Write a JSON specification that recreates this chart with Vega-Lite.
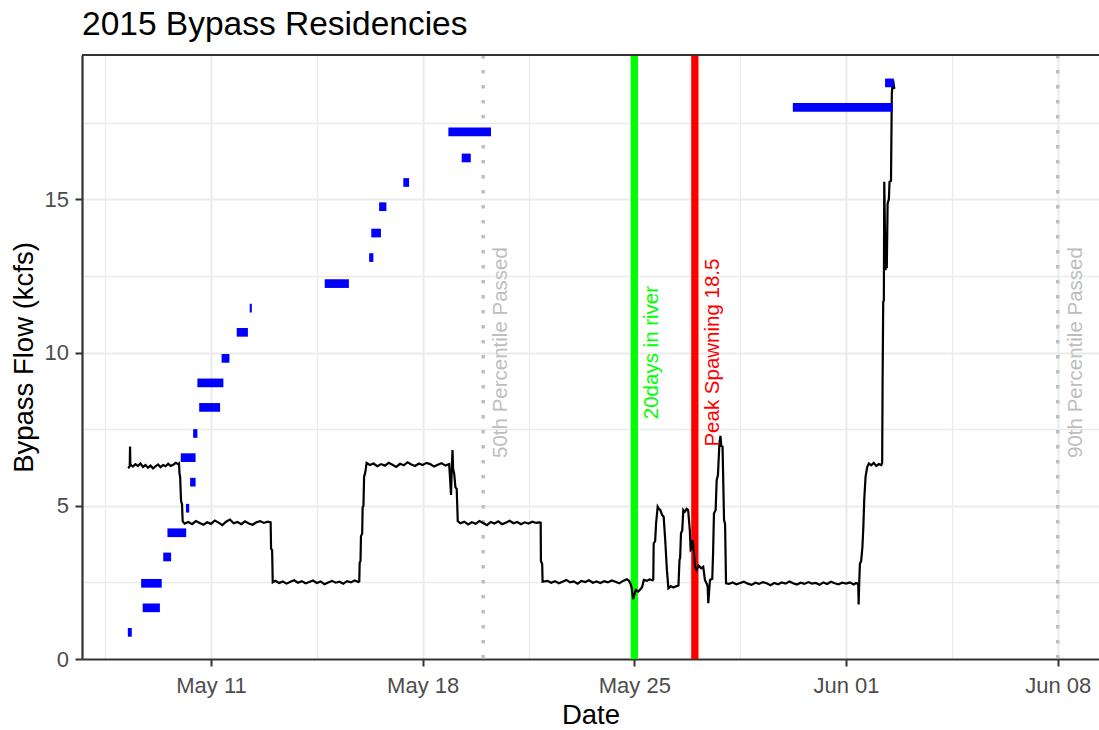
{
  "$schema": "https://vega.github.io/schema/vega-lite/v6.json",
  "width": 1017,
  "height": 604,
  "autosize": {"type": "none"},
  "padding": {"left": 82, "top": 55, "right": 0, "bottom": 71},
  "background": "white",
  "title": {"text": "2015 Bypass Residencies", "anchor": "start", "frame": "group", "font": "Liberation Sans", "fontSize": 33.5, "fontWeight": "normal", "color": "#000000", "baseline": "alphabetic", "offset": 20, "dy": 37},
  "config": {
    "view": {"stroke": null},
    "font": "Liberation Sans",
    "axis": {
      "labelFont": "Liberation Sans", "labelFontSize": 22, "labelColor": "#4D4D4D",
      "titleFont": "Liberation Sans", "titleFontSize": 27.5, "titleColor": "#000000", "titleFontWeight": "normal",
      "gridColor": "#EBEBEB", "tickColor": "#333333", "tickWidth": 2, "tickSize": 7,
      "domainColor": "#333333", "domainWidth": 2.2
    },
    "axisX": {"labelPadding": 9, "titlePadding": 5},
    "axisY": {"labelPadding": 6.5, "titlePadding": 6}
  },
  "datasets": {
    "events": [
      {"date": "2015-05-20T00:00:00Z", "label": "50th Percentile Passed", "kind": "percentile"},
      {"date": "2015-05-25T00:00:00Z", "label": "20days in river", "kind": "milestone"},
      {"date": "2015-05-27T00:00:00Z", "label": "Peak Spawning 18.5", "kind": "milestone"},
      {"date": "2015-06-08T00:00:00Z", "label": "90th Percentile Passed", "kind": "percentile"}
    ],
    "residency": [
      {"arrive":"2015-05-08T06:00Z","depart":"2015-05-08T09:07Z","level":0.87},
      {"arrive":"2015-05-08T17:46Z","depart":"2015-05-09T07:26Z","level":1.67},
      {"arrive":"2015-05-08T16:34Z","depart":"2015-05-09T08:53Z","level":2.47},
      {"arrive":"2015-05-09T10:05Z","depart":"2015-05-09T16:19Z","level":3.33},
      {"arrive":"2015-05-09T13:26Z","depart":"2015-05-10T04:19Z","level":4.12},
      {"arrive":"2015-05-10T04:05Z","depart":"2015-05-10T06:43Z","level":4.92},
      {"arrive":"2015-05-10T07:26Z","depart":"2015-05-10T11:46Z","level":5.77},
      {"arrive":"2015-05-10T00:00Z","depart":"2015-05-10T11:46Z","level":6.57},
      {"arrive":"2015-05-10T09:50Z","depart":"2015-05-10T13:12Z","level":7.36},
      {"arrive":"2015-05-10T14:38Z","depart":"2015-05-11T07:12Z","level":8.21},
      {"arrive":"2015-05-10T13:12Z","depart":"2015-05-11T09:50Z","level":9.01},
      {"arrive":"2015-05-11T08:24Z","depart":"2015-05-11T14:38Z","level":9.81},
      {"arrive":"2015-05-11T20:24Z","depart":"2015-05-12T05:17Z","level":10.66},
      {"arrive":"2015-05-12T06:43Z","depart":"2015-05-12T08:24Z","level":11.45},
      {"arrive":"2015-05-14T18:14Z","depart":"2015-05-15T13:26Z","level":12.25},
      {"arrive":"2015-05-16T05:31Z","depart":"2015-05-16T08:53Z","level":13.1},
      {"arrive":"2015-05-16T07:12Z","depart":"2015-05-16T14:53Z","level":13.9},
      {"arrive":"2015-05-16T13:26Z","depart":"2015-05-16T19:12Z","level":14.76},
      {"arrive":"2015-05-17T08:38Z","depart":"2015-05-17T13:12Z","level":15.55},
      {"arrive":"2015-05-19T06:58Z","depart":"2015-05-19T14:10Z","level":16.35},
      {"arrive":"2015-05-18T20:24Z","depart":"2015-05-20T06:14Z","level":17.2},
      {"arrive":"2015-05-30T05:46Z","depart":"2015-06-02T12:58Z","level":18.0},
      {"arrive":"2015-06-02T06:58Z","depart":"2015-06-02T13:55Z","level":18.8}
    ],
    "flow": [
      {"t":"2015-05-08T06:20Z","f":6.22},{"t":"2015-05-08T07:30Z","f":6.30},{"t":"2015-05-08T07:45Z","f":6.93},{"t":"2015-05-08T08:00Z","f":6.35},
      {"t":"2015-05-08T10:00Z","f":6.28},{"t":"2015-05-08T12:00Z","f":6.36},{"t":"2015-05-08T14:00Z","f":6.30},{"t":"2015-05-08T16:00Z","f":6.38},
      {"t":"2015-05-08T18:00Z","f":6.27},{"t":"2015-05-08T20:00Z","f":6.33},{"t":"2015-05-08T22:00Z","f":6.24},{"t":"2015-05-09T00:00Z","f":6.31},
      {"t":"2015-05-09T02:00Z","f":6.22},{"t":"2015-05-09T04:00Z","f":6.29},{"t":"2015-05-09T06:00Z","f":6.35},{"t":"2015-05-09T08:00Z","f":6.26},
      {"t":"2015-05-09T10:00Z","f":6.33},{"t":"2015-05-09T12:00Z","f":6.29},{"t":"2015-05-09T14:00Z","f":6.37},{"t":"2015-05-09T16:00Z","f":6.30},
      {"t":"2015-05-09T18:00Z","f":6.34},{"t":"2015-05-09T20:00Z","f":6.40},{"t":"2015-05-09T22:00Z","f":6.36},{"t":"2015-05-09T22:36Z","f":6.38},
      {"t":"2015-05-09T23:00Z","f":6.05},{"t":"2015-05-09T23:30Z","f":5.95},{"t":"2015-05-10T00:00Z","f":5.40},{"t":"2015-05-10T00:15Z","f":5.15},
      {"t":"2015-05-10T01:00Z","f":5.05},{"t":"2015-05-10T01:30Z","f":4.50},
      {"t":"2015-05-10T03:00Z","f":4.42},{"t":"2015-05-10T06:00Z","f":4.47},{"t":"2015-05-10T09:00Z","f":4.40},{"t":"2015-05-10T12:00Z","f":4.50},
      {"t":"2015-05-10T15:00Z","f":4.44},{"t":"2015-05-10T18:00Z","f":4.38},{"t":"2015-05-10T21:00Z","f":4.46},{"t":"2015-05-11T00:00Z","f":4.41},
      {"t":"2015-05-11T03:00Z","f":4.52},{"t":"2015-05-11T06:00Z","f":4.45},{"t":"2015-05-11T09:00Z","f":4.37},{"t":"2015-05-11T12:00Z","f":4.48},
      {"t":"2015-05-11T15:00Z","f":4.55},{"t":"2015-05-11T18:00Z","f":4.43},{"t":"2015-05-11T21:00Z","f":4.47},{"t":"2015-05-12T00:00Z","f":4.40},
      {"t":"2015-05-12T03:00Z","f":4.49},{"t":"2015-05-12T06:00Z","f":4.42},{"t":"2015-05-12T09:00Z","f":4.38},{"t":"2015-05-12T12:00Z","f":4.46},
      {"t":"2015-05-12T15:00Z","f":4.50},{"t":"2015-05-12T18:00Z","f":4.44},{"t":"2015-05-12T21:00Z","f":4.48},{"t":"2015-05-12T23:20Z","f":4.46},
      {"t":"2015-05-12T23:40Z","f":3.60},{"t":"2015-05-13T00:30Z","f":3.55},{"t":"2015-05-13T01:00Z","f":2.50},
      {"t":"2015-05-13T03:00Z","f":2.55},{"t":"2015-05-13T06:00Z","f":2.48},{"t":"2015-05-13T09:00Z","f":2.53},{"t":"2015-05-13T12:00Z","f":2.46},
      {"t":"2015-05-13T15:00Z","f":2.52},{"t":"2015-05-13T18:00Z","f":2.57},{"t":"2015-05-13T21:00Z","f":2.49},{"t":"2015-05-14T00:00Z","f":2.54},
      {"t":"2015-05-14T03:00Z","f":2.47},{"t":"2015-05-14T06:00Z","f":2.51},{"t":"2015-05-14T09:00Z","f":2.56},{"t":"2015-05-14T12:00Z","f":2.48},
      {"t":"2015-05-14T15:00Z","f":2.53},{"t":"2015-05-14T18:00Z","f":2.44},{"t":"2015-05-14T21:00Z","f":2.50},{"t":"2015-05-15T00:00Z","f":2.55},
      {"t":"2015-05-15T03:00Z","f":2.49},{"t":"2015-05-15T06:00Z","f":2.52},{"t":"2015-05-15T09:00Z","f":2.46},{"t":"2015-05-15T12:00Z","f":2.54},
      {"t":"2015-05-15T15:00Z","f":2.50},{"t":"2015-05-15T18:00Z","f":2.56},{"t":"2015-05-15T21:00Z","f":2.51},{"t":"2015-05-15T21:40Z","f":2.53},
      {"t":"2015-05-15T22:00Z","f":3.15},{"t":"2015-05-15T22:40Z","f":3.20},{"t":"2015-05-15T23:00Z","f":4.00},{"t":"2015-05-16T00:00Z","f":4.10},
      {"t":"2015-05-16T00:20Z","f":4.95},{"t":"2015-05-16T01:00Z","f":5.00},{"t":"2015-05-16T01:30Z","f":5.95},{"t":"2015-05-16T02:30Z","f":6.10},
      {"t":"2015-05-16T03:30Z","f":6.40},
      {"t":"2015-05-16T06:00Z","f":6.33},{"t":"2015-05-16T09:00Z","f":6.38},{"t":"2015-05-16T12:00Z","f":6.29},{"t":"2015-05-16T15:00Z","f":6.36},
      {"t":"2015-05-16T18:00Z","f":6.31},{"t":"2015-05-16T21:00Z","f":6.40},{"t":"2015-05-17T00:00Z","f":6.34},{"t":"2015-05-17T03:00Z","f":6.27},
      {"t":"2015-05-17T06:00Z","f":6.37},{"t":"2015-05-17T09:00Z","f":6.32},{"t":"2015-05-17T12:00Z","f":6.42},{"t":"2015-05-17T15:00Z","f":6.35},
      {"t":"2015-05-17T18:00Z","f":6.30},{"t":"2015-05-17T21:00Z","f":6.38},{"t":"2015-05-18T00:00Z","f":6.33},{"t":"2015-05-18T03:00Z","f":6.40},
      {"t":"2015-05-18T06:00Z","f":6.36},{"t":"2015-05-18T09:00Z","f":6.28},{"t":"2015-05-18T12:00Z","f":6.34},{"t":"2015-05-18T15:00Z","f":6.39},
      {"t":"2015-05-18T18:00Z","f":6.31},{"t":"2015-05-18T21:00Z","f":6.36},
      {"t":"2015-05-18T21:30Z","f":6.05},{"t":"2015-05-18T22:30Z","f":5.35},{"t":"2015-05-18T23:00Z","f":6.10},{"t":"2015-05-18T23:40Z","f":6.82},
      {"t":"2015-05-19T00:10Z","f":6.20},{"t":"2015-05-19T01:00Z","f":6.05},{"t":"2015-05-19T02:00Z","f":5.60},{"t":"2015-05-19T03:00Z","f":5.55},
      {"t":"2015-05-19T03:50Z","f":4.50},
      {"t":"2015-05-19T06:00Z","f":4.43},{"t":"2015-05-19T09:00Z","f":4.48},{"t":"2015-05-19T12:00Z","f":4.39},{"t":"2015-05-19T15:00Z","f":4.46},
      {"t":"2015-05-19T18:00Z","f":4.41},{"t":"2015-05-19T21:00Z","f":4.50},{"t":"2015-05-20T00:00Z","f":4.44},{"t":"2015-05-20T03:00Z","f":4.37},
      {"t":"2015-05-20T06:00Z","f":4.47},{"t":"2015-05-20T09:00Z","f":4.42},{"t":"2015-05-20T12:00Z","f":4.49},{"t":"2015-05-20T15:00Z","f":4.40},
      {"t":"2015-05-20T18:00Z","f":4.45},{"t":"2015-05-20T21:00Z","f":4.51},{"t":"2015-05-21T00:00Z","f":4.43},{"t":"2015-05-21T03:00Z","f":4.47},
      {"t":"2015-05-21T06:00Z","f":4.40},{"t":"2015-05-21T09:00Z","f":4.46},{"t":"2015-05-21T12:00Z","f":4.42},{"t":"2015-05-21T15:00Z","f":4.48},
      {"t":"2015-05-21T18:00Z","f":4.44},{"t":"2015-05-21T20:30Z","f":4.46},{"t":"2015-05-21T21:40Z","f":4.45},
      {"t":"2015-05-21T21:50Z","f":3.20},{"t":"2015-05-21T22:50Z","f":3.10},{"t":"2015-05-21T23:10Z","f":2.52},
      {"t":"2015-05-22T03:00Z","f":2.55},{"t":"2015-05-22T06:00Z","f":2.49},{"t":"2015-05-22T09:00Z","f":2.54},{"t":"2015-05-22T12:00Z","f":2.47},
      {"t":"2015-05-22T15:00Z","f":2.52},{"t":"2015-05-22T18:00Z","f":2.58},{"t":"2015-05-22T21:00Z","f":2.50},{"t":"2015-05-23T00:00Z","f":2.53},
      {"t":"2015-05-23T03:00Z","f":2.46},{"t":"2015-05-23T06:00Z","f":2.55},{"t":"2015-05-23T09:00Z","f":2.51},{"t":"2015-05-23T12:00Z","f":2.57},
      {"t":"2015-05-23T15:00Z","f":2.49},{"t":"2015-05-23T18:00Z","f":2.53},{"t":"2015-05-23T21:00Z","f":2.48},{"t":"2015-05-24T00:00Z","f":2.54},
      {"t":"2015-05-24T03:00Z","f":2.50},{"t":"2015-05-24T06:00Z","f":2.56},{"t":"2015-05-24T09:00Z","f":2.52},{"t":"2015-05-24T12:00Z","f":2.47},
      {"t":"2015-05-24T15:00Z","f":2.55},{"t":"2015-05-24T18:00Z","f":2.60},{"t":"2015-05-24T19:40Z","f":2.56},
      {"t":"2015-05-24T21:00Z","f":2.45},{"t":"2015-05-24T22:00Z","f":2.30},{"t":"2015-05-24T23:00Z","f":1.95},{"t":"2015-05-25T00:00Z","f":2.10},
      {"t":"2015-05-25T01:10Z","f":2.25},{"t":"2015-05-25T03:00Z","f":2.20},{"t":"2015-05-25T05:00Z","f":2.28},{"t":"2015-05-25T06:10Z","f":2.35},
      {"t":"2015-05-25T07:30Z","f":2.58},{"t":"2015-05-25T10:00Z","f":2.55},{"t":"2015-05-25T12:00Z","f":2.60},{"t":"2015-05-25T14:30Z","f":2.57},
      {"t":"2015-05-25T15:00Z","f":2.60},{"t":"2015-05-25T15:20Z","f":3.77},{"t":"2015-05-25T16:30Z","f":3.85},{"t":"2015-05-25T17:15Z","f":4.43},
      {"t":"2015-05-25T18:30Z","f":4.97},{"t":"2015-05-25T19:30Z","f":4.90},{"t":"2015-05-25T20:40Z","f":4.86},{"t":"2015-05-25T22:00Z","f":4.70},
      {"t":"2015-05-25T23:15Z","f":4.64},{"t":"2015-05-26T00:30Z","f":3.88},{"t":"2015-05-26T01:50Z","f":2.90},{"t":"2015-05-26T03:00Z","f":2.31},
      {"t":"2015-05-26T05:00Z","f":2.38},{"t":"2015-05-26T07:00Z","f":2.33},{"t":"2015-05-26T09:00Z","f":2.37},{"t":"2015-05-26T11:00Z","f":2.40},
      {"t":"2015-05-26T11:50Z","f":3.23},{"t":"2015-05-26T12:20Z","f":3.30},{"t":"2015-05-26T13:00Z","f":4.10},{"t":"2015-05-26T14:00Z","f":4.20},
      {"t":"2015-05-26T14:50Z","f":4.86},{"t":"2015-05-26T16:00Z","f":4.80},{"t":"2015-05-26T17:30Z","f":4.90},{"t":"2015-05-26T18:40Z","f":4.86},
      {"t":"2015-05-26T20:00Z","f":4.21},{"t":"2015-05-26T20:40Z","f":3.56},{"t":"2015-05-26T21:30Z","f":3.60},{"t":"2015-05-26T22:20Z","f":3.88},
      {"t":"2015-05-26T23:20Z","f":3.45},{"t":"2015-05-27T00:10Z","f":3.01},{"t":"2015-05-27T01:20Z","f":2.90},{"t":"2015-05-27T03:00Z","f":3.05},
      {"t":"2015-05-27T05:00Z","f":2.96},{"t":"2015-05-27T06:40Z","f":3.01},{"t":"2015-05-27T08:00Z","f":2.58},{"t":"2015-05-27T09:30Z","f":2.45},
      {"t":"2015-05-27T10:10Z","f":2.36},{"t":"2015-05-27T10:40Z","f":1.82},{"t":"2015-05-27T12:00Z","f":2.58},{"t":"2015-05-27T13:50Z","f":2.62},
      {"t":"2015-05-27T14:30Z","f":3.50},{"t":"2015-05-27T15:10Z","f":4.75},{"t":"2015-05-27T16:30Z","f":4.86},{"t":"2015-05-27T17:20Z","f":5.84},
      {"t":"2015-05-27T18:20Z","f":6.00},{"t":"2015-05-27T19:30Z","f":7.04},{"t":"2015-05-27T20:20Z","f":7.28},{"t":"2015-05-27T21:00Z","f":6.95},
      {"t":"2015-05-27T22:00Z","f":6.93},{"t":"2015-05-27T23:10Z","f":4.54},{"t":"2015-05-28T00:00Z","f":4.40},{"t":"2015-05-28T00:45Z","f":2.47},
      {"t":"2015-05-28T03:00Z","f":2.45},{"t":"2015-05-28T06:00Z","f":2.50},{"t":"2015-05-28T09:00Z","f":2.44},{"t":"2015-05-28T12:00Z","f":2.48},
      {"t":"2015-05-28T15:00Z","f":2.52},{"t":"2015-05-28T18:00Z","f":2.46},{"t":"2015-05-28T21:00Z","f":2.42},{"t":"2015-05-29T00:00Z","f":2.49},
      {"t":"2015-05-29T03:00Z","f":2.45},{"t":"2015-05-29T06:00Z","f":2.51},{"t":"2015-05-29T09:00Z","f":2.47},{"t":"2015-05-29T12:00Z","f":2.41},
      {"t":"2015-05-29T15:00Z","f":2.48},{"t":"2015-05-29T18:00Z","f":2.44},{"t":"2015-05-29T21:00Z","f":2.50},{"t":"2015-05-30T00:00Z","f":2.46},
      {"t":"2015-05-30T03:00Z","f":2.53},{"t":"2015-05-30T06:00Z","f":2.47},{"t":"2015-05-30T09:00Z","f":2.43},{"t":"2015-05-30T12:00Z","f":2.49},
      {"t":"2015-05-30T15:00Z","f":2.45},{"t":"2015-05-30T18:00Z","f":2.51},{"t":"2015-05-30T21:00Z","f":2.46},{"t":"2015-05-31T00:00Z","f":2.48},
      {"t":"2015-05-31T03:00Z","f":2.42},{"t":"2015-05-31T06:00Z","f":2.50},{"t":"2015-05-31T09:00Z","f":2.45},{"t":"2015-05-31T12:00Z","f":2.52},
      {"t":"2015-05-31T15:00Z","f":2.47},{"t":"2015-05-31T18:00Z","f":2.44},{"t":"2015-05-31T21:00Z","f":2.49},{"t":"2015-06-01T00:00Z","f":2.46},
      {"t":"2015-06-01T03:00Z","f":2.50},{"t":"2015-06-01T06:00Z","f":2.43},{"t":"2015-06-01T08:00Z","f":2.48},{"t":"2015-06-01T09:40Z","f":2.45},
      {"t":"2015-06-01T10:00Z","f":1.78},{"t":"2015-06-01T10:30Z","f":2.55},{"t":"2015-06-01T11:00Z","f":3.10},{"t":"2015-06-01T12:00Z","f":3.20},
      {"t":"2015-06-01T13:00Z","f":3.66},{"t":"2015-06-01T13:45Z","f":4.32},{"t":"2015-06-01T14:25Z","f":5.19},{"t":"2015-06-01T15:30Z","f":5.95},
      {"t":"2015-06-01T16:50Z","f":6.27},{"t":"2015-06-01T18:10Z","f":6.38},{"t":"2015-06-01T20:00Z","f":6.32},{"t":"2015-06-01T22:00Z","f":6.40},
      {"t":"2015-06-02T00:00Z","f":6.30},{"t":"2015-06-02T02:00Z","f":6.36},{"t":"2015-06-02T04:00Z","f":6.33},{"t":"2015-06-02T04:40Z","f":6.40},
      {"t":"2015-06-02T05:00Z","f":9.00},{"t":"2015-06-02T05:30Z","f":11.66},{"t":"2015-06-02T06:00Z","f":11.70},{"t":"2015-06-02T06:20Z","f":15.57},
      {"t":"2015-06-02T07:20Z","f":12.69},{"t":"2015-06-02T07:50Z","f":13.20},{"t":"2015-06-02T08:20Z","f":12.75},{"t":"2015-06-02T09:00Z","f":14.87},
      {"t":"2015-06-02T10:00Z","f":15.00},{"t":"2015-06-02T10:30Z","f":15.57},{"t":"2015-06-02T11:40Z","f":15.60},{"t":"2015-06-02T12:20Z","f":18.46},
      {"t":"2015-06-02T13:00Z","f":18.75},{"t":"2015-06-02T13:40Z","f":18.80},{"t":"2015-06-02T14:20Z","f":18.60}
    ]
  },
  "layer": [
    {
      "data": {"name": "events"},
      "transform": [{"filter": "datum.kind == 'percentile'"}],
      "mark": {"type": "rule", "strokeWidth": 3.5, "strokeDash": [3.5, 11.5]},
      "encoding": {
        "x": {
          "field": "date", "type": "temporal", "title": "Date",
          "scale": {"type": "utc", "domain": [1430933817600, 1433839530000], "nice": false},
          "axis": {
            "values": [1431000000000, 1431302400000, 1431604800000, 1431907200000, 1432209600000, 1432512000000, 1432814400000, 1433116800000, 1433419200000, 1433721600000],
            "labelExpr": "utchours(datum.value) == 12 ? '' : utcFormat(datum.value, '%b %d')",
            "labelFlush": false, "labelOverlap": false,
            "gridWidth": {"condition": {"test": "utchours(datum.value) == 12", "value": 1.3}, "value": 2},
            "tickOpacity": {"condition": {"test": "utchours(datum.value) == 12", "value": 0}, "value": 1}
          }
        },
        "color": {"field": "label", "type": "nominal", "legend": null,
          "scale": {"domain": ["50th Percentile Passed", "20days in river", "Peak Spawning 18.5", "90th Percentile Passed"], "range": ["#BEBEBE", "#00FF00", "#FF0000", "#BEBEBE"]}}
      }
    },
    {
      "data": {"name": "events"},
      "transform": [{"filter": "datum.kind == 'milestone'"}],
      "mark": {"type": "rule", "strokeWidth": 7.3},
      "encoding": {
        "x": {"field": "date", "type": "temporal", "title": "Date", "scale": {"type": "utc"}},
        "color": {"field": "label", "type": "nominal", "legend": null,
          "scale": {"domain": ["50th Percentile Passed", "20days in river", "Peak Spawning 18.5", "90th Percentile Passed"], "range": ["#BEBEBE", "#00FF00", "#FF0000", "#BEBEBE"]}}
      }
    },
    {
      "data": {"name": "flow"},
      "mark": {"type": "line", "color": "#000000", "strokeWidth": 2.2},
      "encoding": {
        "x": {"field": "t", "type": "temporal", "title": "Date", "scale": {"type": "utc"}},
        "y": {
          "field": "f", "type": "quantitative", "title": "Bypass Flow (kcfs)",
          "scale": {"domain": [0, 19.71], "nice": false, "zero": false},
          "axis": {
            "values": [0, 2.5, 5, 7.5, 10, 12.5, 15, 17.5],
            "labelExpr": "datum.value % 5 == 0 ? format(datum.value, 'd') : ''",
            "gridWidth": {"condition": {"test": "datum.value % 5 != 0", "value": 1.3}, "value": 2},
            "gridOpacity": {"condition": {"test": "datum.value == 0", "value": 0}, "value": 1},
            "tickOpacity": {"condition": {"test": "datum.value % 5 != 0", "value": 0}, "value": 1}
          }
        }
      }
    },
    {
      "data": {"name": "residency"},
      "mark": {"type": "rule", "color": "#0000FF", "strokeWidth": 8.7, "strokeCap": "butt"},
      "encoding": {
        "x": {"field": "arrive", "type": "temporal", "title": "Date", "scale": {"type": "utc"}},
        "x2": {"field": "depart"},
        "y": {"field": "level", "type": "quantitative", "title": "Bypass Flow (kcfs)"}
      }
    },
    {
      "data": {"values": [{}]},
      "mark": {"type": "rule", "color": "#333333", "strokeWidth": 2.2},
      "encoding": {"y": {"datum": 19.71, "type": "quantitative", "title": "Bypass Flow (kcfs)"}}
    },
    {
      "data": {"name": "events"},
      "mark": {"type": "text", "angle": 270, "align": "center", "baseline": "middle", "dy": 18, "fontSize": 20.5, "font": "Liberation Sans"},
      "encoding": {
        "x": {"field": "date", "type": "temporal", "title": "Date", "scale": {"type": "utc"}},
        "y": {"datum": 10, "type": "quantitative", "title": "Bypass Flow (kcfs)"},
        "text": {"field": "label"},
        "color": {"field": "label", "type": "nominal", "legend": null,
          "scale": {"domain": ["50th Percentile Passed", "20days in river", "Peak Spawning 18.5", "90th Percentile Passed"], "range": ["#BEBEBE", "#00FF00", "#FF0000", "#BEBEBE"]}}
      }
    }
  ]
}
